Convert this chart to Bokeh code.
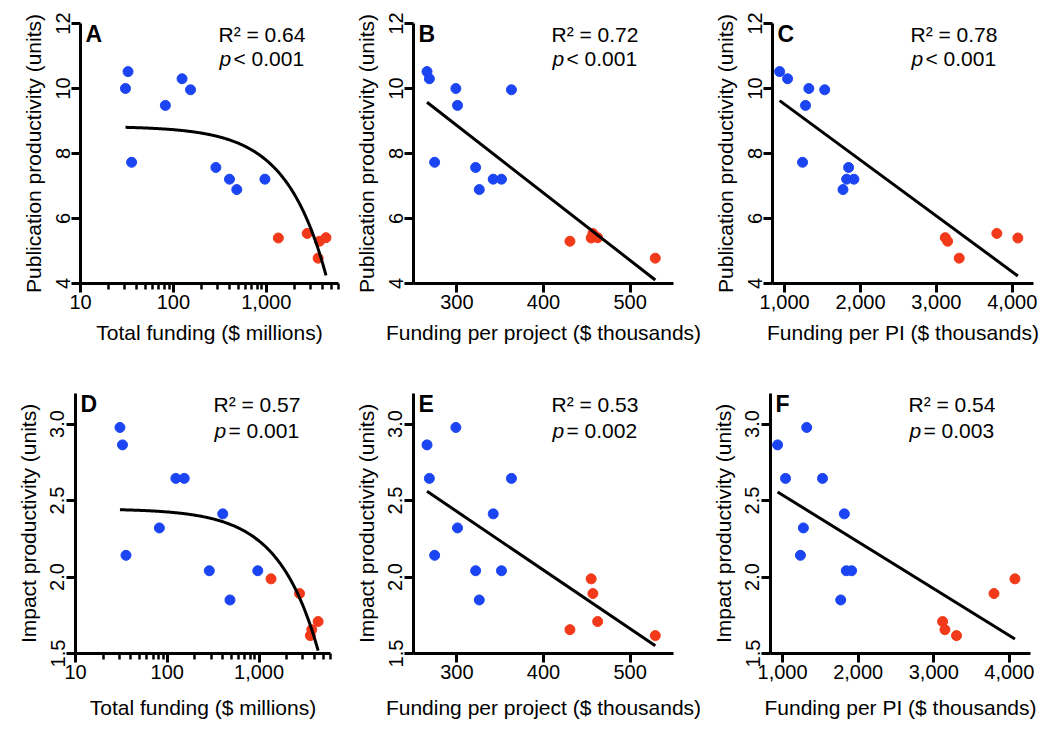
import numpy as np
from bokeh.plotting import figure
from bokeh.layouts import column, row
from bokeh.models import FixedTicker, NumeralTickFormatter, Label, Range1d, ColumnDataSource
from bokeh.embed import file_html
from bokeh.resources import INLINE

# ---------------- data (one entry per institution) ----------------
total_funding = [30.5, 32.5, 35.5, 82, 124, 153, 287, 402, 482, 968,
                 1350, 2760, 3620, 3750, 4400]            # $ millions
funding_per_project = [298.9, 265.6, 274.4, 300.8, 268.3, 363, 321.7, 342, 325.9, 351.5,
                       455, 457, 529, 430.5, 462.5]       # $ thousands
funding_per_pi = [1319, 934, 1236, 1275, 1039, 1528, 1843, 1817, 1769, 1913,
                  4074, 3797, 3301, 3148, 3117]           # $ thousands
publication_productivity = [10.0, 10.52, 7.73, 9.48, 10.30, 9.96, 7.57, 7.21, 6.89, 7.21,
                            5.40, 5.54, 4.78, 5.30, 5.41]
impact_productivity = [2.978, 2.864, 2.142, 2.321, 2.645, 2.645, 2.041, 2.413, 1.85, 2.041,
                       1.988, 1.892, 1.617, 1.656, 1.709]
institution_group = ["blue", "blue", "blue", "blue", "blue", "blue", "blue", "blue", "blue", "blue",
                     "red", "red", "red", "red", "red"]

panel_letters = ["A", "B", "C", "D", "E", "F"]
r2_values = ["0.64", "0.72", "0.78", "0.57", "0.53", "0.54"]
p_values = ["< 0.001", "< 0.001", "< 0.001", "= 0.001", "= 0.002", "= 0.003"]

log_ticks = [10, 100, 1000]
log_minor_ticks = [20, 30, 40, 50, 60, 70, 80, 90, 200, 300, 400, 500, 600, 700, 800, 900,
                   2000, 3000, 4000, 5000, 6000]
project_ticks = [300, 400, 500]
pi_ticks = [1000, 2000, 3000, 4000]
pub_ticks = [4, 6, 8, 10, 12]
impact_ticks = [1.5, 2.0, 2.5, 3.0]

x_titles = ["Total funding ($ millions)", "Funding per project ($ thousands)",
            "Funding per PI ($ thousands)"]
y_titles = ["Publication productivity (units)", "Impact productivity (units)"]

# ---------------- style ----------------
COLORS = {"blue": "#1b45f2", "red": "#f23a1a"}
INK = "#000000"
FONT = "Liberation Sans"


def make_panel(idx, x, y, log_x, x_range, y_range, x_ticks, x_minor, x_fmt, y_ticks, y_fmt,
               x_title, y_title, width, height, borders, letter_y, r2_y, p_y, x_title_gap):
    bl, br, bt, bb = borders
    fig = figure(width=width, height=height, output_backend="svg", toolbar_location=None,
                 x_axis_type="log" if log_x else "linear",
                 x_range=Range1d(*x_range), y_range=Range1d(*y_range),
                 min_border_left=bl, min_border_right=br, min_border_top=bt, min_border_bottom=bb,
                 background_fill_color="white", border_fill_color="white",
                 outline_line_color=None)
    fig.xgrid.visible = False
    fig.ygrid.visible = False

    xs = np.array(x, dtype=float)
    ys = np.array(y, dtype=float)
    cols = [COLORS[g] for g in institution_group]
    src = ColumnDataSource(dict(x=xs, y=ys, c=cols))
    fig.scatter("x", "y", source=src, size=10, fill_color="c", line_color="c")

    # least-squares linear fit of the plotted data
    slope, intercept = np.polyfit(xs, ys, 1)
    if log_x:
        fx = np.geomspace(xs.min(), xs.max(), 300)
    else:
        fx = np.array([xs.min(), xs.max()])
    fig.line(fx, intercept + slope * fx, line_color=INK, line_width=3)

    fig.xaxis.ticker = FixedTicker(ticks=x_ticks, minor_ticks=x_minor)
    fig.xaxis.formatter = x_fmt
    fig.yaxis.ticker = FixedTicker(ticks=y_ticks, minor_ticks=[])
    fig.yaxis.formatter = y_fmt
    fig.xaxis.axis_label = x_title
    fig.yaxis.axis_label = y_title
    fig.yaxis.major_label_orientation = "vertical"

    fig.axis.axis_line_width = 3
    fig.axis.axis_line_color = INK
    fig.axis.major_tick_line_width = 3
    fig.axis.major_tick_line_color = INK
    fig.axis.major_tick_out = 9
    fig.axis.major_tick_in = 0
    fig.axis.minor_tick_line_width = 2.5
    fig.axis.minor_tick_line_color = INK
    fig.axis.minor_tick_out = 6
    fig.axis.minor_tick_in = 0
    fig.axis.major_label_text_font = FONT
    fig.axis.major_label_text_font_size = "20px"
    fig.axis.major_label_text_color = INK
    fig.axis.major_label_standoff = 2
    fig.axis.axis_label_text_font = FONT
    fig.axis.axis_label_text_font_size = "21px"
    fig.axis.axis_label_text_font_style = "normal"
    fig.axis.axis_label_text_color = INK
    fig.axis.axis_label_standoff = 8
    fig.xaxis.axis_label_standoff = x_title_gap

    fig.add_layout(Label(x=5, y=letter_y, x_units="screen", y_units="screen",
                         text=panel_letters[idx], text_font=FONT, text_font_size="23px",
                         text_font_style="bold", text_color=INK,
                         text_baseline="alphabetic"))
    fig.add_layout(Label(x=138, y=r2_y, x_units="screen", y_units="screen",
                         text="R\u00b2 = " + r2_values[idx], text_font=FONT,
                         text_font_size="21px", text_color=INK,
                         text_baseline="alphabetic"))
    fig.add_layout(Label(x=139, y=p_y, x_units="screen", y_units="screen",
                         text="p", text_font=FONT, text_font_size="21px",
                         text_font_style="italic", text_color=INK,
                         text_baseline="alphabetic"))
    fig.add_layout(Label(x=153, y=p_y, x_units="screen", y_units="screen",
                         text=p_values[idx], text_font=FONT, text_font_size="21px",
                         text_color=INK, text_baseline="alphabetic"))
    return fig


comma = NumeralTickFormatter(format="0,0")
plain = NumeralTickFormatter(format="0")
one_dec = NumeralTickFormatter(format="0.0")

TOP_H, BOT_H = 358, 370
top_b = 23, 75
bot_b = 35, 75

pA = make_panel(0, total_funding, publication_productivity, True, (10, 6000), (4, 12),
                log_ticks, log_minor_ticks, comma, pub_ticks, plain, x_titles[0], y_titles[0],
                343, TOP_H, (80, 5) + top_b, 250, 249, 225, 9)
pB = make_panel(1, funding_per_project, publication_productivity, False, (250, 550), (4, 12),
                project_ticks, [], plain, pub_ticks, plain, x_titles[1], y_titles[0],
                358, TOP_H, (70, 28) + top_b, 250, 249, 225, 9)
pC = make_panel(2, funding_per_pi, publication_productivity, False, (840, 4280), (4, 12),
                pi_ticks, [], comma, pub_ticks, plain, x_titles[2], y_titles[0],
                342, TOP_H, (71, 10) + top_b, 250, 249, 225, 9)
pD = make_panel(3, total_funding, impact_productivity, True, (10, 6000), (1.5, 3.2),
                log_ticks, log_minor_ticks, comma, impact_ticks, one_dec, x_titles[0], y_titles[1],
                335, BOT_H, (75, 5) + bot_b, 250, 249, 223, 14)
pE = make_panel(4, funding_per_project, impact_productivity, False, (250, 550), (1.5, 3.2),
                project_ticks, [], plain, impact_ticks, one_dec, x_titles[1], y_titles[1],
                365, BOT_H, (78, 27) + bot_b, 250, 249, 223, 14)
pF = make_panel(5, funding_per_pi, impact_productivity, False, (840, 4280), (1.5, 3.2),
                pi_ticks, [], comma, impact_ticks, one_dec, x_titles[2], y_titles[1],
                343, BOT_H, (70, 13) + bot_b, 250, 249, 223, 14)

layout = column(row(pA, pB, pC), row(pD, pE, pF))
open("out.html", "w").write(file_html(layout, INLINE))
